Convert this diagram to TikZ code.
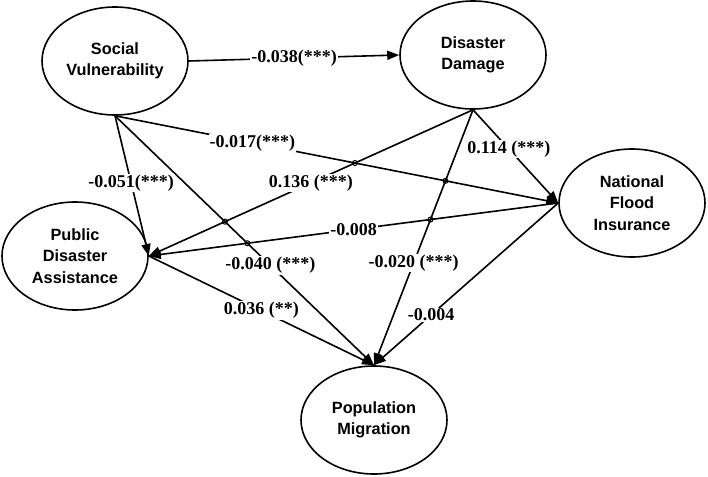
\documentclass[tikz,border=0pt]{standalone}
\usepackage{fontspec}
\setmainfont{Liberation Serif}
\newfontfamily\nodefont{Liberation Sans}
\usetikzlibrary{shapes.geometric,arrows.meta,intersections}
\tikzset{
  var/.style={ellipse, draw, line width=1.6pt, minimum width=146pt, minimum height=108pt, inner sep=0pt,
    align=center, font=\nodefont\bfseries\fontsize{16.3}{21.5}\selectfont},
  arr/.style={line width=1.6pt, -{Triangle[length=12pt,width=9pt]}},
  lab/.style={fill=white, inner sep=1pt, font=\bfseries\fontsize{18}{20}\selectfont},
  hop/.style={draw, line width=1pt}
}
\begin{document}
\begin{tikzpicture}[x=1pt,y=-1pt]
\useasboundingbox (0,0) rectangle (708,476);
\node[var] (sv) at (115,61) {Social\\Vulnerability};
\node[var] (dd) at (473,55) {Disaster\\Damage};
\node[var] (nfi) at (632,203) {National\\Flood\\Insurance};
\node[var] (pda) at (75,256) {Public\\Disaster\\Assistance};
\node[var] (pm) at (374,420) {Population\\Migration};

\draw[arr] (sv.east) -- node[lab,pos=0.5]{-0.038(***)} (dd.west);
\draw[arr] (sv.south) -- node[lab,pos=0.48]{-0.051(***)} (pda.east);
\draw[arr, name path=sn] (sv.south) -- node[lab,pos=0.31]{-0.017(***)} (nfi.west);
\draw[arr, name path=sm] (sv.south) -- node[lab,pos=0.6]{-0.040 (***)} (pm.north);
\draw[arr, name path=dp] (dd.south) -- node[lab,pos=0.5]{0.136 (***)} (pda.east);
\draw[arr] (dd.south) -- node[lab,pos=0.42]{0.114 (***)} (nfi.west);
\draw[arr, name path=dm] (dd.south) -- node[lab,pos=0.6]{-0.020 (***)} (pm.north);
\draw[arr, name path=np] (nfi.west) -- node[lab,pos=0.5]{-0.008} (pda.east);
\draw[arr] (nfi.west) -- node[lab,pos=0.69]{-0.004} (pm.north);
\draw[arr] (pda.east) -- node[lab,pos=0.5]{0.036 (**)} (pm.north);

\path[name intersections={of=sn and dp, by=h1}];
\path[name intersections={of=sn and dm, by=h2}];
\path[name intersections={of=np and dm, by=h3}];
\path[name intersections={of=sm and dp, by=h4}];
\path[name intersections={of=sm and np, by=h5}];
\foreach \h in {h1,h2,h3,h4,h5} \draw[hop] (\h) circle (2.5pt);
\end{tikzpicture}
\end{document}
